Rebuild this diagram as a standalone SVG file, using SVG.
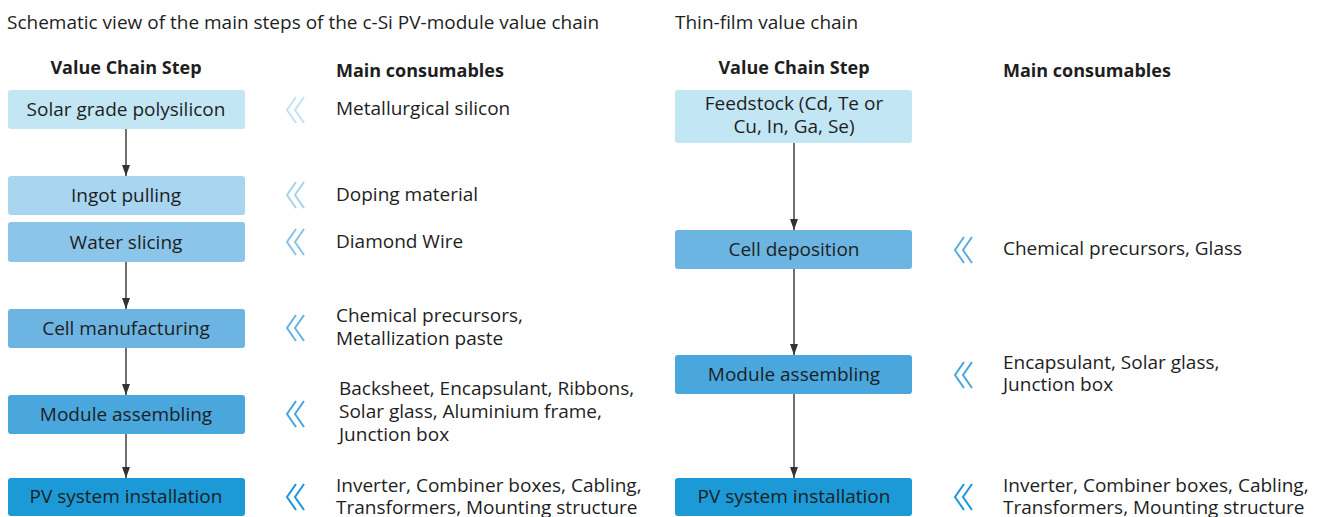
<svg xmlns="http://www.w3.org/2000/svg" width="1320" height="517" viewBox="0 0 1320 517">
<defs>
<style>
text{font-family:"Open Sans","Noto Sans","Liberation Sans",sans-serif;fill:#1e1e1e;font-size:19px}
.h{font-weight:700;font-size:18px}
.c{text-anchor:middle}
.ar{stroke:#333;stroke-width:1.4;fill:none}
.ch{fill:none;stroke-width:2}
</style>
<marker id="arr" viewBox="0 0 11 8" refX="11" refY="4" markerWidth="11" markerHeight="8" orient="auto" markerUnits="userSpaceOnUse">
<path d="M0,0 L11,4 L0,8 Z" fill="#333"/>
</marker>
</defs>
<rect width="1320" height="517" fill="#fff"/>
<text x="7" y="29">Schematic view of the main steps of the c-Si PV-module value chain</text>
<text x="675" y="29">Thin-film value chain</text>
<text class="h c" x="126" y="74">Value Chain Step</text>
<text class="h" x="336" y="77">Main consumables</text>
<text class="h c" x="794" y="74">Value Chain Step</text>
<text class="h" x="1003" y="77">Main consumables</text>

<g id="connectors">
<line class="ar" x1="126" y1="129" x2="126" y2="176" marker-end="url(#arr)"/>
<line class="ar" x1="126" y1="262" x2="126" y2="309" marker-end="url(#arr)"/>
<line class="ar" x1="126" y1="348" x2="126" y2="395" marker-end="url(#arr)"/>
<line class="ar" x1="126" y1="434" x2="126" y2="478" marker-end="url(#arr)"/>
<line class="ar" x1="794" y1="143" x2="794" y2="230" marker-end="url(#arr)"/>
<line class="ar" x1="794" y1="269" x2="794" y2="355" marker-end="url(#arr)"/>
<line class="ar" x1="794" y1="394" x2="794" y2="478" marker-end="url(#arr)"/>
</g>

<g id="l1"><rect x="8" y="90" width="237" height="39" rx="3" fill="#c3e6f5"/><text class="c" x="126" y="116">Solar grade polysilicon</text>
<path class="ch" stroke="#bfe3f5" d="M296,97 L287,110 L296,123 M304,97 L295,110 L304,123"/><text x="336" y="115">Metallurgical silicon</text></g>
<g id="l2"><rect x="8" y="176" width="237" height="39" rx="3" fill="#a8d5ef"/><text class="c" x="126" y="202">Ingot pulling</text>
<path class="ch" stroke="#a3d2ef" d="M296,182 L287,195 L296,208 M304,182 L295,195 L304,208"/><text x="336" y="201">Doping material</text></g>
<g id="l3"><rect x="8" y="222" width="237" height="40" rx="3" fill="#8bc5ea"/><text class="c" x="126" y="249">Water slicing</text>
<path class="ch" stroke="#86c2ea" d="M296,229 L287,242 L296,255 M304,229 L295,242 L304,255"/><text x="336" y="248">Diamond Wire</text></g>
<g id="l4"><rect x="8" y="309" width="237" height="39" rx="3" fill="#6cb5e2"/><text class="c" x="126" y="335">Cell manufacturing</text>
<path class="ch" stroke="#67b3e2" d="M296,315 L287,328 L296,341 M304,315 L295,328 L304,341"/><text x="336" y="322">Chemical precursors,</text><text x="336" y="345">Metallization paste</text></g>
<g id="l5"><rect x="8" y="395" width="237" height="39" rx="3" fill="#49a7dd"/><text class="c" x="126" y="421">Module assembling</text>
<path class="ch" stroke="#45a5dd" d="M296,401 L287,414 L296,427 M304,401 L295,414 L304,427"/><text x="339" y="395">Backsheet, Encapsulant, Ribbons,</text><text x="339" y="418">Solar glass, Aluminium frame,</text><text x="339" y="441">Junction box</text></g>
<g id="l6"><rect x="8" y="478" width="237" height="38" rx="3" fill="#1b9ad7"/><text class="c" x="126" y="503">PV system installation</text>
<path class="ch" stroke="#1a98d6" d="M296,484 L287,497 L296,510 M304,484 L295,497 L304,510"/><text x="336" y="492">Inverter, Combiner boxes, Cabling,</text><text x="336" y="514">Transformers, Mounting structure</text></g>

<g id="r1"><rect x="675" y="90" width="237" height="53" rx="3" fill="#c3e6f5"/><text class="c" x="794" y="110">Feedstock (Cd, Te or</text><text class="c" x="794" y="133">Cu, In, Ga, Se)</text></g>
<g id="r2"><rect x="675" y="230" width="237" height="39" rx="3" fill="#6cb5e2"/><text class="c" x="794" y="256">Cell deposition</text>
<path class="ch" stroke="#5aade0" d="M964,237 L955,250 L964,263 M972,237 L963,250 L972,263"/><text x="1003" y="255">Chemical precursors, Glass</text></g>
<g id="r3"><rect x="675" y="355" width="237" height="39" rx="3" fill="#49a7dd"/><text class="c" x="794" y="381">Module assembling</text>
<path class="ch" stroke="#45a5dd" d="M964,362 L955,375 L964,388 M972,362 L963,375 L972,388"/><text x="1003" y="369">Encapsulant, Solar glass,</text><text x="1003" y="391">Junction box</text></g>
<g id="r4"><rect x="675" y="478" width="237" height="38" rx="3" fill="#1b9ad7"/><text class="c" x="794" y="503">PV system installation</text>
<path class="ch" stroke="#1a98d6" d="M964,484 L955,497 L964,510 M972,484 L963,497 L972,510"/><text x="1003" y="492">Inverter, Combiner boxes, Cabling,</text><text x="1003" y="514">Transformers, Mounting structure</text></g>
</svg>
